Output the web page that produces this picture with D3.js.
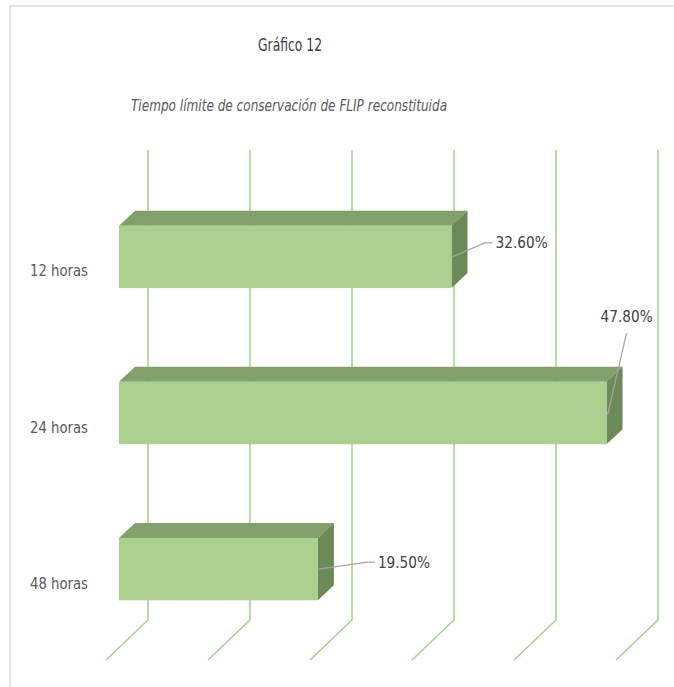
<!DOCTYPE html>
<html>
<head>
<meta charset="utf-8">
<script src="https://cdn.jsdelivr.net/npm/d3@7"></script>
<style>
body{margin:0;background:#fff;}
text{font-family:"DejaVu Sans Condensed","DejaVu Sans",sans-serif;}
</style>
</head>
<body>
<div id="chart"></div>
<script>
// data
var categories = ["12 horas", "24 horas", "48 horas"];
var values = [32.6, 47.8, 19.5];
var valueLabels = ["32.60%", "47.80%", "19.50%"];
var ticks = [0, 10, 20, 30, 40, 50];

var width = 674,
    height = 687;

// label nudges from bar end (layout only)
var labelNudge = [[44, -14], [-6, -97], [60, -7]];

var svg = d3.select("#chart").append("svg")
    .attr("width", width)
    .attr("height", height);

// squeeze text horizontally, the original font is narrower
function place(px, py, sx){
    return "translate(" + px + "," + py + ") scale(" + sx + ",1)";
}

// frame
svg.append("path")
    .attr("d", "M10,687 L10,6 L674,6")
    .attr("fill", "none")
    .attr("stroke", "#d9d9d9")
    .attr("stroke-width", 1.5);

// titles
svg.append("text")
    .attr("transform", place(290, 51, 0.81))
    .attr("text-anchor", "middle")
    .attr("fill", "#404040")
    .style("font-size", "17px")
    .text("Gráfico 12");

svg.append("text")
    .attr("transform", place(289, 111, 0.84))
    .attr("text-anchor", "middle")
    .attr("fill", "#595959")
    .style("font-size", "16px")
    .style("font-style", "italic")
    .text("Tiempo límite de conservación de FLIP reconstituida");

// scales (x = back wall, bars are shifted toward viewer)
var x = d3.scaleLinear().domain([0, 50]).range([148, 658]);
var y = d3.scaleBand().domain(categories).range([132, 694]).padding(0.6);

var wallTop = 150, wallBottom = 620,
    floorDx = -42, floorDy = 40,   // front edge of floor
    barFront = -29,                 // x shift of bar front face
    depthX = 16, depthY = -15;      // bar depth

// back wall gridlines
svg.selectAll(".grid").data(ticks).enter()
  .append("path")
    .attr("class", "grid")
    .attr("d", function(d){
        var gx = x(d);
        return "M" + gx + "," + wallTop + " L" + gx + "," + wallBottom +
               " L" + (gx + floorDx) + "," + (wallBottom + floorDy);
    })
    .attr("fill", "none")
    .attr("stroke", "#a9d18e")
    .attr("stroke-width", 1.6);

var bars = svg.selectAll(".bar").data(values).enter()
  .append("g")
    .attr("class", "bar");

function x0(){ return x(0) + barFront; }
function x1(d){ return x(d) + barFront; }
function yt(d, i){ return y(categories[i]); }

// top face
bars.append("path")
    .attr("d", function(d, i){
        var a = x0(), b = x1(d), t = yt(d, i);
        return "M" + a + "," + t + " L" + (a + depthX) + "," + (t + depthY) +
               " L" + (b + depthX) + "," + (t + depthY) + " L" + b + "," + t + "Z";
    })
    .attr("fill", "#82a06b");

// side face
bars.append("path")
    .attr("d", function(d, i){
        var b = x1(d), t = yt(d, i), h = y.bandwidth();
        return "M" + b + "," + t + " L" + (b + depthX) + "," + (t + depthY) +
               " L" + (b + depthX) + "," + (t + depthY + h) + " L" + b + "," + (t + h) + "Z";
    })
    .attr("fill", "#6c8a58");

// front face
bars.append("rect")
    .attr("x", x0())
    .attr("y", function(d, i){ return yt(d, i); })
    .attr("width", function(d){ return x1(d) - x0(); })
    .attr("height", y.bandwidth())
    .attr("fill", "#a9d08e");

// leader lines
bars.append("path")
    .attr("d", function(d, i){
        var bx = x1(d) + 1, by = yt(d, i) + y.bandwidth() / 2;
        var n = labelNudge[i];
        if (n[1] < -40) {
            return "M" + bx + "," + (by + 2) + " L" + (bx + 19) + "," + (by + n[1] + 17);
        }
        return "M" + bx + "," + by + " L" + (bx + n[0] - 12) + "," + (by + n[1]) +
               " L" + (bx + n[0] - 4) + "," + (by + n[1]);
    })
    .attr("fill", "none")
    .attr("stroke", "#a6a6a6")
    .attr("stroke-width", 1.2);

// value labels
bars.append("text")
    .attr("transform", function(d, i){
        return place(x1(d) + labelNudge[i][0], yt(d, i) + y.bandwidth() / 2 + labelNudge[i][1], 0.95);
    })
    .attr("dy", "0.35em")
    .attr("fill", "#404040")
    .style("font-size", "16px")
    .text(function(d, i){ return valueLabels[i]; });

// category labels
svg.selectAll(".cat").data(categories).enter()
  .append("text")
    .attr("class", "cat")
    .attr("transform", function(d){ return place(88, y(d) + y.bandwidth() / 2 + 14, 0.92); })
    .attr("dy", "0.35em")
    .attr("text-anchor", "end")
    .attr("fill", "#595959")
    .style("font-size", "16px")
    .text(function(d){ return d; });
</script>
</body>
</html>
